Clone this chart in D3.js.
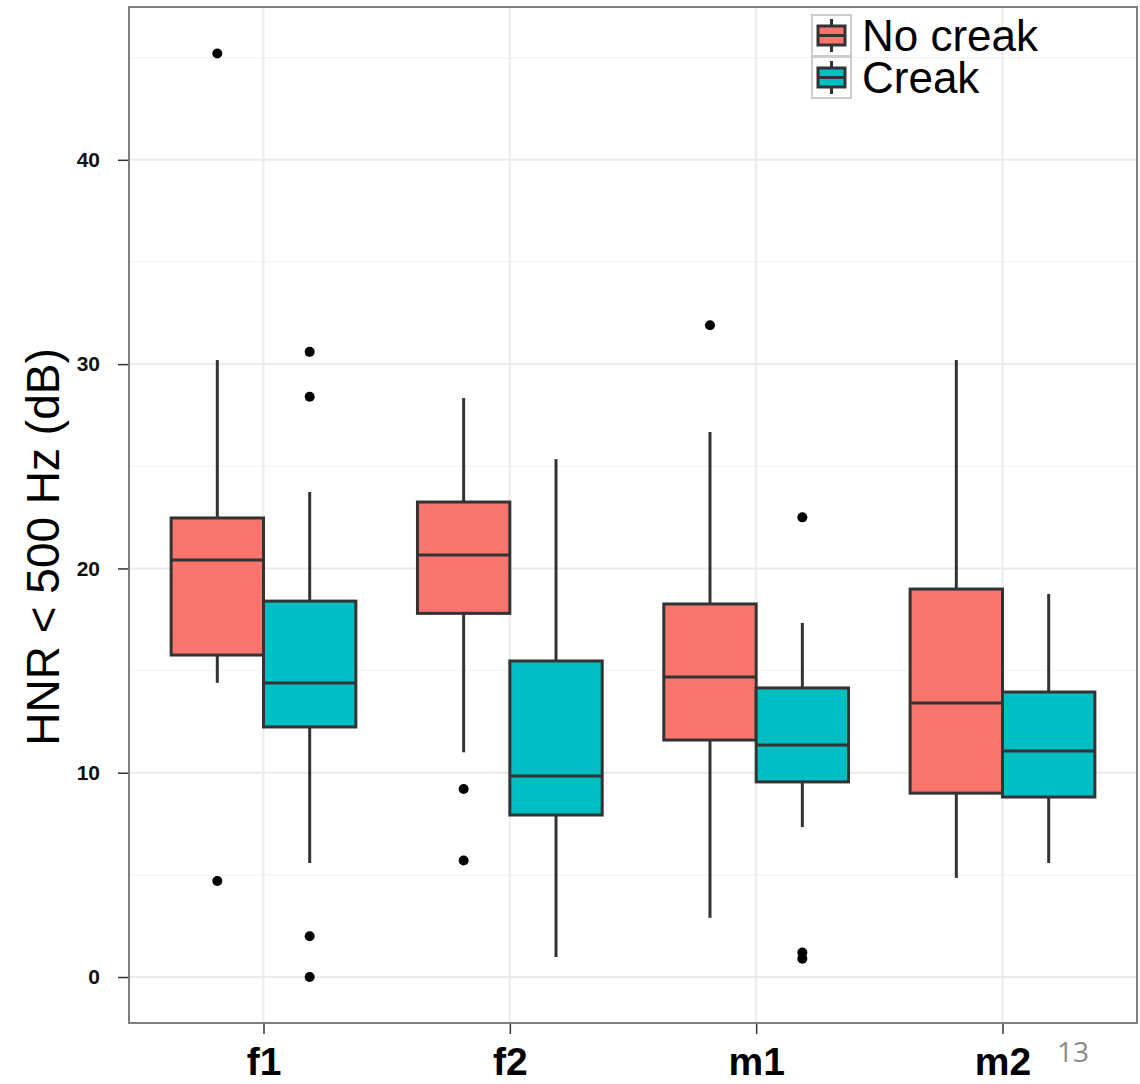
<!DOCTYPE html>
<html>
<head>
<meta charset="utf-8">
<script src="https://cdn.jsdelivr.net/npm/d3@7"></script>
<style>
  html, body { margin: 0; padding: 0; background: #fff; }
  svg { display: block; font-family: "Liberation Sans", Arial, sans-serif; }
</style>
</head>
<body>
<div id="chart"></div>
<script>
// speakers and conditions
const speakers = ["f1", "f2", "m1", "m2"];
const conditions = ["No creak", "Creak"];
const fillColors = ["#F8766D", "#00BFC4"];

// box stats per speaker (values in dB)
const lowNoCreak = [14.4, 11.0, 2.9, 4.85];
const q1NoCreak = [15.76, 17.8, 11.6, 9.0];
const medNoCreak = [20.41, 20.66, 14.68, 13.41];
const q3NoCreak = [22.47, 23.25, 18.26, 18.99];
const highNoCreak = [30.2, 28.34, 26.68, 30.2];
const outNoCreak = [[45.2, 4.7], [9.2, 5.7], [31.9], []];

const lowCreak = [5.58, 0.98, 7.34, 5.58];
const q1Creak = [12.24, 7.93, 9.55, 8.81];
const medCreak = [14.39, 9.84, 11.36, 11.06];
const q3Creak = [18.4, 15.47, 14.15, 13.95];
const highCreak = [23.74, 25.35, 17.33, 18.75];
const outCreak = [[30.6, 28.4, 2.0, 0.0], [], [22.5, 1.2, 0.9], []];

const yTicks = [0, 10, 20, 30, 40];
const yMinor = [5, 15, 25, 35, 45];

const width = 1140, height = 1084;
const panel = { left: 129, right: 1137, top: 7, bottom: 1023 };

const svg = d3.select("#chart").append("svg")
  .attr("width", width)
  .attr("height", height);

const x = d3.scalePoint()
  .domain(speakers)
  .range([panel.left, panel.right])
  .padding(0.546);

const y = d3.scaleLinear()
  .domain([-2.25, 47.48])
  .range([panel.bottom, panel.top]);

const dodge = d3.scaleBand()
  .domain(conditions)
  .range([-x.step() * 0.375, x.step() * 0.375]);

// build rows from arrays
const boxes = [];
speakers.forEach((s, i) => {
  boxes.push({ speaker: s, cond: "No creak", low: lowNoCreak[i], q1: q1NoCreak[i], med: medNoCreak[i], q3: q3NoCreak[i], high: highNoCreak[i], out: outNoCreak[i] });
  boxes.push({ speaker: s, cond: "Creak", low: lowCreak[i], q1: q1Creak[i], med: medCreak[i], q3: q3Creak[i], high: highCreak[i], out: outCreak[i] });
});

// panel background + grid
svg.append("rect")
  .attr("x", panel.left).attr("y", panel.top)
  .attr("width", panel.right - panel.left).attr("height", panel.bottom - panel.top)
  .attr("fill", "#fff");

const grid = svg.append("g");
grid.selectAll(".minor").data(yMinor).join("line")
  .attr("x1", panel.left).attr("x2", panel.right)
  .attr("y1", d => y(d)).attr("y2", d => y(d))
  .attr("stroke", "#f5f5f5").attr("stroke-width", 1.5);
grid.selectAll(".major").data(yTicks).join("line")
  .attr("x1", panel.left).attr("x2", panel.right)
  .attr("y1", d => y(d)).attr("y2", d => y(d))
  .attr("stroke", "#ebebeb").attr("stroke-width", 2);
grid.selectAll(".vmajor").data(speakers).join("line")
  .attr("x1", d => x(d)).attr("x2", d => x(d))
  .attr("y1", panel.top).attr("y2", panel.bottom)
  .attr("stroke", "#ebebeb").attr("stroke-width", 2);

// boxplots
const bw = dodge.bandwidth();
const g = svg.append("g");
boxes.forEach(b => {
  const cx = x(b.speaker) + dodge(b.cond) + bw / 2;
  const left = x(b.speaker) + dodge(b.cond);
  const col = fillColors[conditions.indexOf(b.cond)];
  g.append("line")
    .attr("x1", cx).attr("x2", cx)
    .attr("y1", y(b.high)).attr("y2", y(b.q3))
    .attr("stroke", "#333").attr("stroke-width", 3);
  g.append("line")
    .attr("x1", cx).attr("x2", cx)
    .attr("y1", y(b.q1)).attr("y2", y(b.low))
    .attr("stroke", "#333").attr("stroke-width", 3);
  g.append("rect")
    .attr("x", left).attr("y", y(b.q3))
    .attr("width", bw).attr("height", y(b.q1) - y(b.q3))
    .attr("fill", col).attr("stroke", "#333").attr("stroke-width", 3);
  g.append("line")
    .attr("x1", left).attr("x2", left + bw)
    .attr("y1", y(b.med)).attr("y2", y(b.med))
    .attr("stroke", "#333").attr("stroke-width", 3);
  g.selectAll(null).data(b.out).join("circle")
    .attr("cx", cx).attr("cy", d => y(d))
    .attr("r", 5).attr("fill", "#000");
});

// panel border
svg.append("rect")
  .attr("x", panel.left).attr("y", panel.top)
  .attr("width", panel.right - panel.left).attr("height", panel.bottom - panel.top)
  .attr("fill", "none").attr("stroke", "#7f7f7f").attr("stroke-width", 2);

// axes
const yAxis = svg.append("g")
  .attr("transform", `translate(${panel.left - 1},0)`)
  .call(d3.axisLeft(y).tickValues(yTicks).tickSize(10).tickPadding(18));
yAxis.select(".domain").remove();
yAxis.selectAll(".tick line").attr("stroke", "#333").attr("stroke-width", 1.5);
yAxis.selectAll(".tick text")
  .attr("font-size", 21).attr("font-weight", "bold").attr("fill", "#111")
  .attr("font-family", "Liberation Sans, Arial, sans-serif");

const xAxis = svg.append("g")
  .attr("transform", `translate(0,${panel.bottom + 1})`)
  .call(d3.axisBottom(x).tickSize(10).tickPadding(10));
xAxis.select(".domain").remove();
xAxis.selectAll(".tick line").attr("stroke", "#333").attr("stroke-width", 1.5);
xAxis.selectAll(".tick text")
  .attr("font-size", 39).attr("font-weight", "bold").attr("fill", "#000")
  .attr("font-family", "Liberation Sans, Arial, sans-serif")
  .attr("dy", null).attr("y", 51);

// y title
svg.append("text")
  .attr("transform", `translate(59,547) rotate(-90)`)
  .attr("text-anchor", "middle")
  .attr("font-size", 46)
  .attr("fill", "#000")
  .text("HNR < 500 Hz (dB)");

// legend
const leg = svg.append("g").attr("transform", "translate(812,15)");
conditions.forEach((c, i) => {
  const k = leg.append("g").attr("transform", `translate(0,${i * 42})`);
  k.append("rect").attr("x", 0).attr("y", 0).attr("width", 39).attr("height", 41)
    .attr("fill", "#fff").attr("stroke", "#cccccc").attr("stroke-width", 2);
  k.append("line").attr("x1", 19.5).attr("x2", 19.5).attr("y1", 4).attr("y2", 37)
    .attr("stroke", "#333").attr("stroke-width", 3);
  k.append("rect").attr("x", 6).attr("y", 11).attr("width", 27).attr("height", 19)
    .attr("fill", fillColors[i]).attr("stroke", "#333").attr("stroke-width", 3);
  k.append("line").attr("x1", 6).attr("x2", 33).attr("y1", 20.5).attr("y2", 20.5)
    .attr("stroke", "#333").attr("stroke-width", 3);
  k.append("text").attr("x", 50).attr("y", 36)
    .attr("font-size", 44).attr("fill", "#000").text(c);
});

// slide number
svg.append("text")
  .attr("x", 1057).attr("y", 1062)
  .attr("font-size", 28).attr("fill", "#8c8c8c")
  .attr("font-family", "Open Sans, Liberation Sans, sans-serif")
  .text("13");
</script>
</body>
</html>
